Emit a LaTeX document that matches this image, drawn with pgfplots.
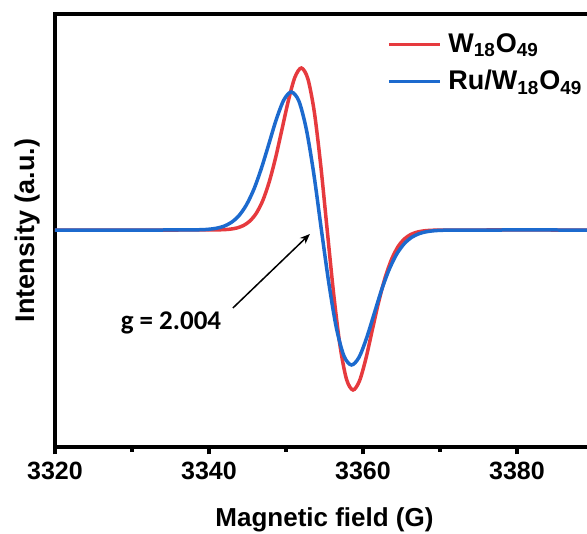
\documentclass[border=0pt]{standalone}
\usepackage{fontspec}
\setmainfont{Liberation Sans}
\newfontfamily\carlito{Carlito}
\usepackage{pgfplots}
\pgfplotsset{compat=1.18}
\usetikzlibrary{arrows.meta}

\definecolor{eprred}{RGB}{230,58,62}
\definecolor{eprblue}{RGB}{28,106,206}

% EPR first-derivative spectra (field in G, intensity in arbitrary units)
\pgfplotstableread{
x y
3320.00 0
3330.00 0
3336.00 0
3340.28 0.05
3341.95 0.36
3342.79 0.88
3343.63 2.04
3344.46 4.42
3345.30 8.91
3346.14 16.73
3346.98 29.34
3347.81 47.82
3348.65 72.30
3349.49 101.10
3350.33 130.07
3351.16 152.85
3352.00 162.00
3352.84 151.21
3353.68 117.86
3354.51 64.72
3355.35 0
3356.19 -63.92
3357.03 -116.40
3357.86 -149.34
3358.70 -160.00
3359.54 -150.96
3360.38 -128.46
3361.21 -99.86
3362.05 -71.41
3362.89 -47.23
3363.73 -28.98
3364.56 -16.53
3365.40 -8.80
3366.24 -4.36
3367.08 -2.02
3367.91 -0.87
3368.75 -0.35
3370.43 -0.05
3376.00 0
3385.00 0
3400.00 0
}\wox

\pgfplotstableread{
x y
3320.00 0
3328.00 0
3334.00 0
3337.05 0.04
3339.00 0.30
3339.98 0.75
3340.95 1.74
3341.93 3.76
3342.90 7.59
3343.88 14.26
3344.85 24.99
3345.83 40.74
3346.80 61.59
3347.78 86.13
3348.75 110.80
3349.73 130.20
3350.70 138.00
3351.68 128.81
3352.65 100.40
3353.63 55.13
3354.60 0
3355.58 -53.93
3356.55 -98.21
3357.53 -126.01
3358.50 -135.00
3359.48 -127.37
3360.45 -108.39
3361.43 -84.25
3362.40 -60.25
3363.38 -39.85
3364.35 -24.45
3365.33 -13.95
3366.30 -7.43
3367.28 -3.68
3368.25 -1.70
3369.23 -0.74
3370.20 -0.30
3372.15 -0.04
3378.00 0
3386.00 0
3400.00 0
}\ruwox

\begin{document}
\begin{tikzpicture}
\begin{axis}[
  scale only axis,
  width=267.5pt, height=216.5pt,
  xmin=3320, xmax=3389.48,
  ymin=-217, ymax=216,
  axis line style={line width=2.1pt},
  xtick={3320,3340,3360,3380},
  xticklabels={3320,3340,3360,3380},
  minor x tick num=1,
  ytick=\empty,
  xtick pos=bottom,
  tick align=outside,
  major tick length=3.75pt,
  minor tick length=2.5pt,
  every tick/.style={black, line width=1.6pt},
  xticklabel style={font=\fontsize{12.5}{15}\selectfont\bfseries},
  xlabel={Magnetic field (G)},
  xlabel style={at={(axis description cs:0.5037,-0.1825)}, anchor=base,
    font=\fontsize{13}{16}\selectfont\bfseries},
  ylabel={Intensity (a.u.)},
  ylabel style={at={(axis description cs:-0.0374,0.5)}, anchor=base,
    font=\fontsize{13.5}{16}\selectfont\bfseries},
  legend style={at={(rel axis cs:0.6206,0.956)}, anchor=north west,
    draw=none, fill=none, inner sep=0pt, row sep=7.5pt, column sep=3.5pt,
    nodes={inner sep=0pt},
    font=\fontsize{13.5}{16}\selectfont\bfseries},
  legend cell align=left,
  legend image code/.code={\draw[#1, line width=1.5pt] (0pt,0pt) -- (25.5pt,0pt);},
]
\addplot[eprred, line width=1.75pt, smooth] table[x=x, y=y] {\wox};
\addlegendentry{W\textsubscript{18}O\textsubscript{49}}
\addplot[eprblue, line width=1.75pt, smooth] table[x=x, y=y] {\ruwox};
\addlegendentry{Ru/W\textsubscript{18}O\textsubscript{49}}

\draw[-{Stealth[length=5pt, width=4pt]}, line width=0.75pt]
  (axis cs:3343.1,-78) -- (axis cs:3353.1,-4);
\node[anchor=base, font=\carlito\bfseries\fontsize{13.5}{16}\selectfont]
  at (axis cs:3335.06,-100) {g = 2.004};

\coordinate (bbsw) at (rel axis cs:-0.1028,-0.2009);
\coordinate (bbne) at (rel axis cs:0.99439,1.03233);
\end{axis}
\pgfresetboundingbox
\path (bbsw) rectangle (bbne);
\end{tikzpicture}
\end{document}
